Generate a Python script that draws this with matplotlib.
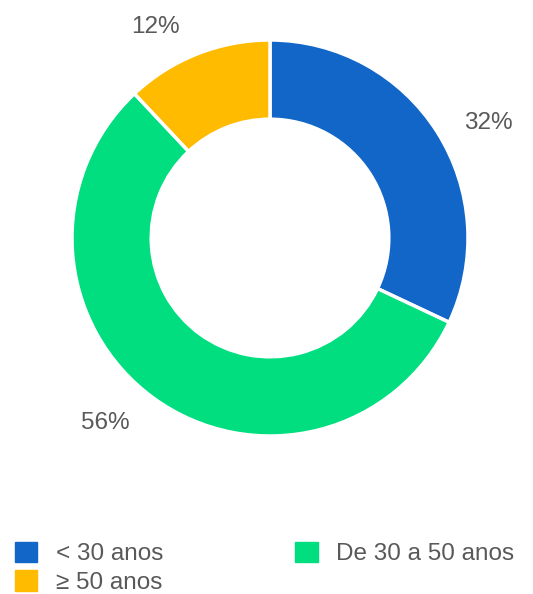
import matplotlib.pyplot as plt
from matplotlib.patches import Patch

plt.rcParams['font.family'] = ['Liberation Sans', 'DejaVu Sans']

categories = ['< 30 anos', 'De 30 a 50 anos', '≥ 50 anos']
shares = [32, 56, 12]
colors = ['#1166C8', '#00DE80', '#FFBB00']
text_color = '#595959'

W, H = 533, 594
fig = plt.figure(figsize=(W / 100, H / 100), dpi=100)
ax = fig.add_axes([0, 0, 1, 1])

cx, cy, r = 270, H - 238, 198
wedges, _ = ax.pie(shares, colors=colors, startangle=90, counterclock=False,
                   center=(cx, cy), radius=r, frame=True,
                   wedgeprops=dict(width=r * 0.4, edgecolor='white', linewidth=2.5))
ax.set_xlim(0, W)
ax.set_ylim(0, H)
ax.set_aspect('equal')
ax.axis('off')

# label spots (pixels, from top-left)
label_pos = [(488, 123), (105, 423), (155, 27)]
for v, (x, y) in zip(shares, label_pos):
    ax.text(x, H - y, f'{v}%', ha='center', va='center', fontsize=17.5, color=text_color)

handles = [Patch(color=colors[i]) for i in (0, 2, 1)]
labels = [categories[i] for i in (0, 2, 1)]
leg = fig.legend(handles, labels, ncol=2, loc='upper left',
                 bbox_to_anchor=(-2 / W, 1 - 525 / H), frameon=False,
                 fontsize=17.5, labelcolor=text_color,
                 handlelength=0.92, handleheight=0.9, handletextpad=0.75,
                 labelspacing=0.2, columnspacing=5.45, borderpad=0.2)

fig.savefig('out.png', dpi=100)
